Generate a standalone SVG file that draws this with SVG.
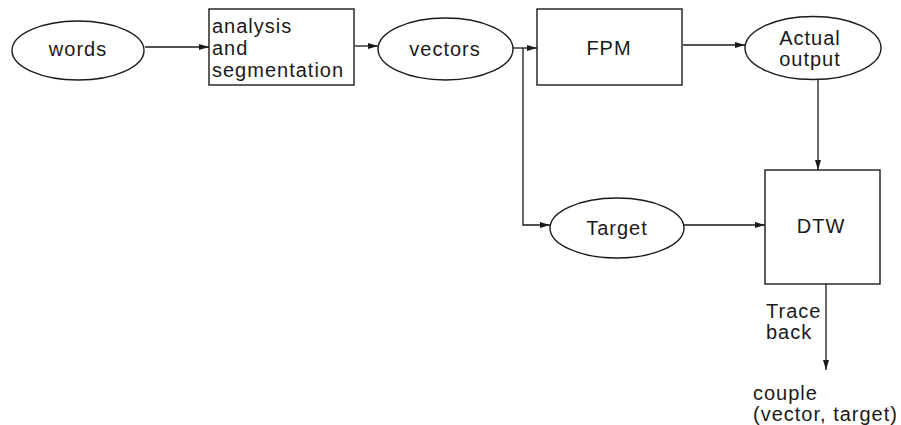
<svg xmlns="http://www.w3.org/2000/svg" width="901" height="425" viewBox="0 0 901 425">
  <style>
    .shape { fill: #fff; stroke: #1a1a1a; stroke-width: 1.4; }
    .label { font-family: "Liberation Sans", Arial, sans-serif; font-size: 20px; letter-spacing: 1px; fill: #1a1a1a; }
    .mid { text-anchor: middle; }
    .link { fill: none; stroke: #1a1a1a; stroke-width: 1.3; }
  </style>
  <defs>
    <marker id="arrow" viewBox="0 0 10 6" refX="10" refY="3" markerWidth="10" markerHeight="6" markerUnits="userSpaceOnUse" orient="auto">
      <path d="M0,0 L10,3 L0,6 Z" fill="#1a1a1a"/>
    </marker>
  </defs>

  <rect width="901" height="425" fill="#fff"/>

  <!-- connectors -->
  <g id="connectors">
    <path class="link" d="M145,47 H209" marker-end="url(#arrow)"/>
    <path class="link" d="M355,46 H378" marker-end="url(#arrow)"/>
    <path class="link" d="M513,48 H537" marker-end="url(#arrow)"/>
    <path class="link" d="M523,48 V225 H550" marker-end="url(#arrow)"/>
    <path class="link" d="M683,45 H745" marker-end="url(#arrow)"/>
    <path class="link" d="M818,80 V170" marker-end="url(#arrow)"/>
    <path class="link" d="M684,225 H765" marker-end="url(#arrow)"/>
    <path class="link" d="M826,284 V370" marker-end="url(#arrow)"/>
  </g>

  <!-- nodes -->
  <g id="words">
    <ellipse class="shape" cx="78" cy="50.5" rx="66" ry="29.5"/>
    <text class="label mid" x="78" y="56">words</text>
  </g>

  <g id="analysis">
    <rect class="shape" x="209" y="9" width="145" height="76"/>
    <text class="label" x="212" y="33">analysis</text>
    <text class="label" x="212" y="55">and</text>
    <text class="label" x="212" y="77">segmentation</text>
  </g>

  <g id="vectors">
    <ellipse class="shape" cx="445.5" cy="49" rx="67.5" ry="31"/>
    <text class="label mid" x="445" y="56">vectors</text>
  </g>

  <g id="fpm">
    <rect class="shape" x="537" y="9" width="145" height="76"/>
    <text class="label mid" x="609" y="55">FPM</text>
  </g>

  <g id="actual-output">
    <ellipse class="shape" cx="813" cy="48" rx="68" ry="31.5"/>
    <text class="label mid" x="810" y="45">Actual</text>
    <text class="label mid" x="810" y="66">output</text>
  </g>

  <g id="target">
    <ellipse class="shape" cx="617" cy="228" rx="67" ry="30"/>
    <text class="label mid" x="617" y="235">Target</text>
  </g>

  <g id="dtw">
    <rect class="shape" x="765" y="170" width="115" height="114"/>
    <text class="label mid" x="821" y="233">DTW</text>
  </g>

  <g id="trace-back">
    <text class="label" x="766" y="318">Trace</text>
    <text class="label" x="766" y="339">back</text>
  </g>

  <g id="couple">
    <text class="label" x="753" y="400">couple</text>
    <text class="label" x="753" y="421">(vector, target)</text>
  </g>
</svg>
